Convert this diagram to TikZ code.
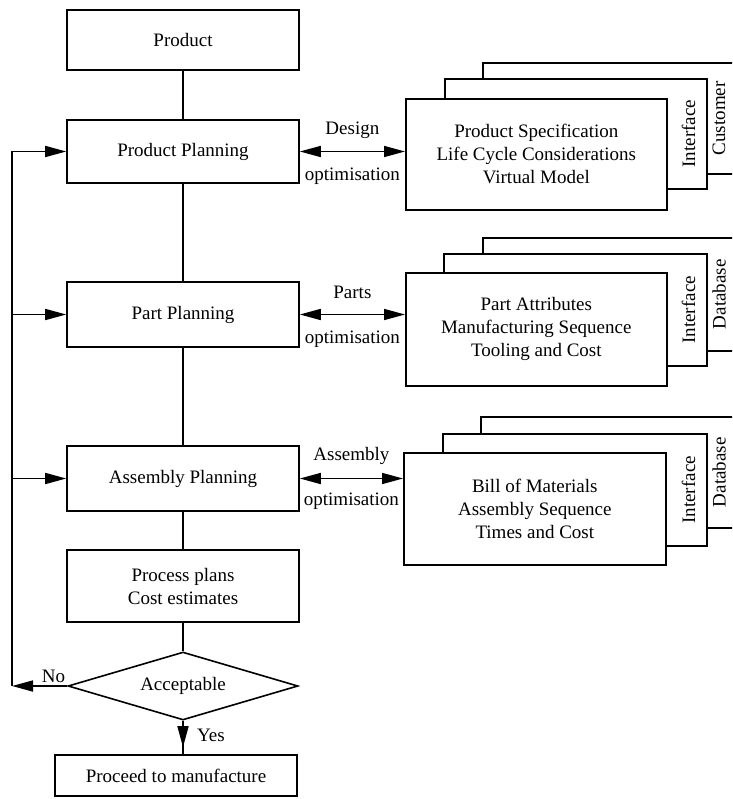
\documentclass[tikz,border=0pt]{standalone}
\usepackage{fontspec}
\setmainfont{Liberation Serif}
\usetikzlibrary{arrows.meta,shapes.geometric,calc}
\begin{document}
\begin{tikzpicture}[x=1pt,y=-1pt,
  every node/.style={font=\fontsize{19}{23}\selectfont},
  lw/.style={line width=1.6pt},
  flowbox/.style={draw, lw, minimum width=232pt, inner sep=0pt, align=center},
  stackbox/.style={draw, lw, fill=white, anchor=north west, inner sep=0pt, align=center},
  tip/.tip={Triangle[length=21pt,width=11pt]},
  arr/.style={lw, -tip},
  dblarr/.style={lw, tip-tip},
  sidelabel/.style={rotate=90, inner sep=0pt},
]
\useasboundingbox (0,0) rectangle (732,799);
\clip (0,0) rectangle (732,799);

% main flow
\node[flowbox, minimum height=60pt] (prod) at (183,40) {Product};
\node[flowbox, minimum height=63pt] (pp) at (183,151.5) {Product Planning};
\node[flowbox, minimum height=65pt] (part) at (183,314.5) {Part Planning};
\node[flowbox, minimum height=65pt] (asm) at (183,478.5) {Assembly Planning};
\node[flowbox, minimum height=72pt] (proc) at (183,586) {Process plans\\Cost estimates};
\node[draw, lw, diamond, aspect=3.38, minimum width=230pt, minimum height=68pt, inner sep=0pt] (ok) at (183,686) {Acceptable};
\node[flowbox, minimum width=242pt, minimum height=41pt] (go) at (176,775.5) {Proceed to manufacture};

% stacked information sheets: product
\node[stackbox, minimum width=290pt, minimum height=111pt] (specB) at (482,62) {};
\node[stackbox, minimum width=262pt, minimum height=110pt] (specM) at (444,78) {};
\node[stackbox, minimum width=261pt, minimum height=111pt] (spec) at (405,98)
  {Product Specification\\Life Cycle Considerations\\Virtual Model};
\node[sidelabel] (specI) at ($(specM.east)+(-19,0)$) {Interface};
\node[sidelabel] (specC) at ($(specB.west)+(237,0)$) {Customer};

% stacked information sheets: parts
\node[stackbox, minimum width=290pt, minimum height=113pt] (attrB) at (482,237) {};
\node[stackbox, minimum width=263pt, minimum height=112pt] (attrM) at (443,253) {};
\node[stackbox, minimum width=261pt, minimum height=113pt] (attr) at (405,272)
  {Part Attributes\\Manufacturing Sequence\\Tooling and Cost};
\node[sidelabel] (attrI) at ($(attrM.east)+(-19,0)$) {Interface};
\node[sidelabel] (attrD) at ($(attrB.west)+(237,0)$) {Database};

% stacked information sheets: assembly
\node[stackbox, minimum width=290pt, minimum height=111pt] (bomB) at (480,416) {};
\node[stackbox, minimum width=264pt, minimum height=112pt] (bomM) at (442,433) {};
\node[stackbox, minimum width=262pt, minimum height=112pt] (bom) at (403,452)
  {Bill of Materials\\Assembly Sequence\\Times and Cost};
\node[sidelabel] (bomI) at ($(bomM.east)+(-19,0)$) {Interface};
\node[sidelabel] (bomD) at ($(bomB.west)+(239,0)$) {Database};

% vertical flow
\draw[lw] (prod) -- (pp);
\draw[lw] (pp) -- (part);
\draw[lw] (part) -- (asm);
\draw[lw] (asm) -- (proc);
\draw[lw] (proc) -- (ok);
\draw[lw] (ok.south) -- (ok.south |- go.north);
\draw[arr, shorten >=7pt] (ok.south) -- node[right=10pt, pos=0.45] (yes) {Yes} (ok.south |- go.north);

% feedback rail
\coordinate (rail) at (12,686);
\draw[arr] (ok.west) -- node[above=-1pt, pos=0.25] (no) {No} (rail);
\draw[arr] (rail) |- (pp.west);
\draw[arr] (rail |- part.west) -- (part.west);
\draw[arr] (rail |- asm.west) -- (asm.west);

% optimisation links
\draw[dblarr] (pp.east) --
  node[midway, yshift=21pt] (dsg) {Design}
  node[midway, yshift=-25pt] (dsgo) {optimisation}
  (spec.west |- pp.east);
\draw[dblarr] (part.east) --
  node[midway, yshift=22pt] (prt) {Parts}
  node[midway, yshift=-25pt] (prto) {optimisation}
  (attr.west |- part.east);
\draw[dblarr] (asm.east) --
  node[midway, yshift=23pt] (asb) {Assembly}
  node[midway, yshift=-23pt] (asbo) {optimisation}
  (bom.west |- asm.east);
\end{tikzpicture}
\end{document}
